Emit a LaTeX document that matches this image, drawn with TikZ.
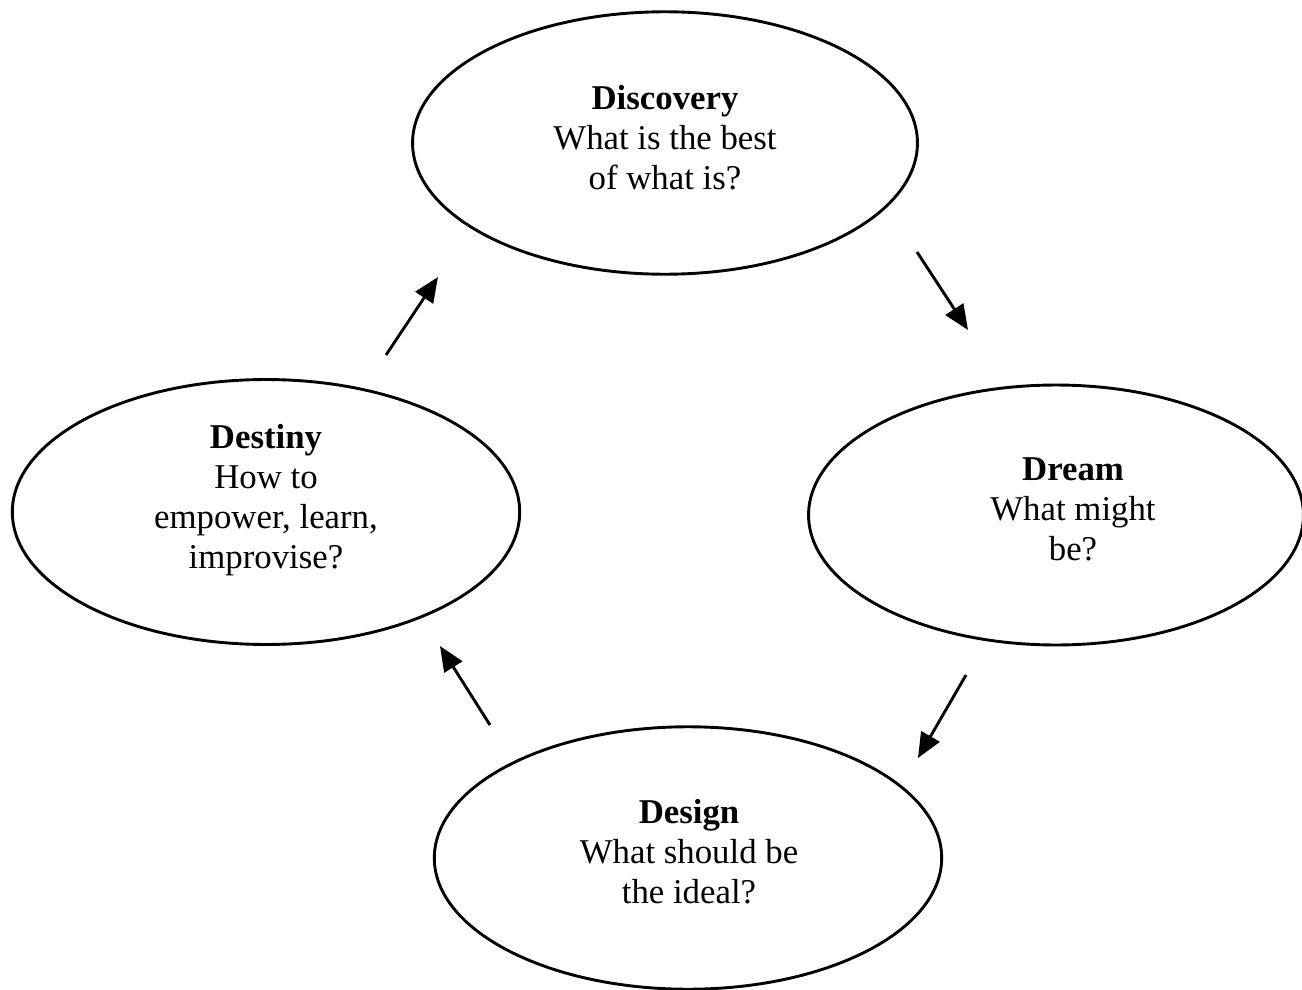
\documentclass[tikz,border=0pt]{standalone}
\usepackage{fontspec}
\setmainfont{Liberation Serif}
\usetikzlibrary{shapes.geometric,arrows.meta}
\begin{document}
\begin{tikzpicture}[x=0.02cm,y=-0.02cm,
  phase/.style={draw, ellipse, line width=1.65pt, inner sep=0pt},
  phasetext/.style={align=center, inner sep=0pt,
    font=\fontsize{19.8}{22.8}\selectfont},
  flow/.style={line width=1.65pt, -{Triangle[length=0.5cm,width=0.42cm]}}]
\useasboundingbox (0,0) rectangle (1302,990);
\node[phase, minimum width=10.1cm, minimum height=5.25cm] (disc) at (665,143) {};
\node[phase, minimum width=9.9cm, minimum height=5.2cm] (dream) at (1056,515) {};
\node[phase, minimum width=10.15cm, minimum height=5.25cm] (design) at (688,858) {};
\node[phase, minimum width=10.15cm, minimum height=5.3cm] (dest) at (266,512) {};
\node[phasetext] (disct) at (665,137.5) {\textbf{Discovery}\\What is the best\\of what is?};
\node[phasetext] (dreamt) at (1073,509) {\textbf{Dream}\\What might\\be?};
\node[phasetext] (designt) at (689,851.5) {\textbf{Design}\\What should be\\the ideal?};
\node[phasetext] (destt) at (266,500) {\textbf{Destiny}\\How to\\empower, learn,\\improvise?};
\coordinate (a1s) at (917,252); \coordinate (a1e) at (968,330);
\coordinate (a2s) at (966,675); \coordinate (a2e) at (918,758);
\coordinate (a3s) at (490,725); \coordinate (a3e) at (440,646);
\coordinate (a4s) at (386,355); \coordinate (a4e) at (438,277);
\draw[flow] (a1s) -- (a1e);
\draw[flow] (a2s) -- (a2e);
\draw[flow] (a3s) -- (a3e);
\draw[flow] (a4s) -- (a4e);
\end{tikzpicture}
\end{document}
